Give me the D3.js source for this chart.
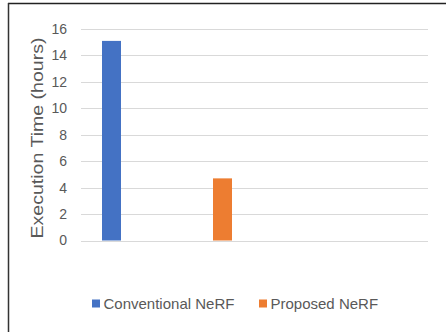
<!DOCTYPE html>
<html><head><meta charset="utf-8">
<script src="https://cdn.jsdelivr.net/npm/d3@7"></script>
<style>html,body{margin:0;padding:0;background:#fff;}</style>
</head><body>
<script>
const series = ["Conventional NeRF", "Proposed NeRF"];
const values = [15.1, 4.7];
const colors = ["#4472C4", "#ED7D31"];
const yTicks = [0, 2, 4, 6, 8, 10, 12, 14, 16];
const yTitle = "Execution Time (hours)";

const W = 446, H = 332;
const svg = d3.select("body").append("svg").attr("width", W).attr("height", H)
  .style("font-family", "'Liberation Sans', Arial, sans-serif");
svg.append("rect").attr("width", W).attr("height", H).attr("fill", "#fff");

// frame (top and left edges visible)
svg.append("line").attr("x1", 8).attr("x2", W).attr("y1", 3.5).attr("y2", 3.5)
  .attr("stroke", "#222").attr("stroke-width", 1.5);
svg.append("line").attr("x1", 8.5).attr("x2", 8.5).attr("y1", 3).attr("y2", H)
  .attr("stroke", "#333").attr("stroke-width", 1.5);

const plotL = 81, plotR = 428;
const y = d3.scaleLinear().domain([0, 16]).range([240.5, 29]);
const x = d3.scalePoint().domain(series).range([111.5, 222.5]);
const barW = 19;

// gridlines
svg.append("g").selectAll("line").data(yTicks).join("line")
  .attr("x1", plotL).attr("x2", plotR)
  .attr("y1", d => Math.round(y(d)) + 0.5).attr("y2", d => Math.round(y(d)) + 0.5)
  .attr("stroke", "#d9d9d9").attr("stroke-width", 1);

// y axis labels
const yAxis = d3.axisLeft(y).tickValues(yTicks).tickSize(0).tickPadding(0).tickFormat(d3.format("d"));
const gy = svg.append("g").attr("transform", `translate(67,0)`).call(yAxis);
gy.select(".domain").remove();
gy.selectAll("text").attr("fill", "#595959").style("font-size", "14px")
  .style("font-family", "'Liberation Sans', Arial, sans-serif");

// bars
svg.append("g").selectAll("rect").data(values).join("rect")
  .attr("x", (d, i) => x(series[i]) - barW / 2)
  .attr("width", barW)
  .attr("y", d => y(d))
  .attr("height", d => y(0) - y(d))
  .attr("fill", (d, i) => colors[i]);

// y title
svg.append("text")
  .attr("transform", `translate(42.5,138) rotate(-90)`)
  .attr("text-anchor", "middle")
  .attr("fill", "#595959")
  .style("font-size", "16px")
  .attr("textLength", 201)
  .attr("lengthAdjust", "spacingAndGlyphs")
  .text(yTitle);

// legend
const legX = [92, 259];
const leg = svg.append("g").selectAll("g").data(series).join("g")
  .attr("transform", (d, i) => `translate(${legX[i]},0)`);
leg.append("rect").attr("x", 0).attr("y", 299.5).attr("width", 8).attr("height", 8)
  .attr("fill", (d, i) => colors[i]);
leg.append("text").attr("x", 11.5).attr("y", 308.7)
  .attr("fill", "#595959").style("font-size", "15px")
  .text(d => d);
</script>
</body></html>
